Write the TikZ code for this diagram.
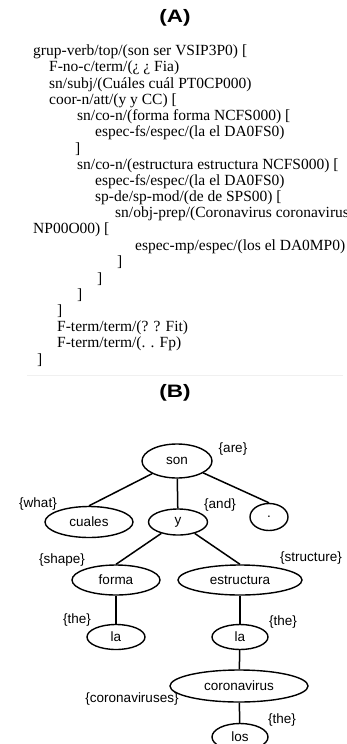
\documentclass[tikz,border=0pt]{standalone}
\usepackage{graphicx}
\usepackage{fontspec}
\setmainfont{Liberation Serif}
\setsansfont{Liberation Sans}
\usetikzlibrary{shapes.geometric}

\begin{document}
\begin{tikzpicture}[x=1pt, y=-1pt,
    txtline/.style={font=\fontsize{15.5}{16}\selectfont, anchor=west, inner sep=0pt},
    word/.style={ellipse, draw, line width=1.4pt, inner sep=0pt,
        font=\sffamily\fontsize{13.5}{14}\selectfont},
    gloss/.style={inner sep=0pt, font=\sffamily\fontsize{13.5}{14}\selectfont},
    edge/.style={line width=1.5pt},
    panel/.style={font=\sffamily\bfseries\fontsize{18}{20}\selectfont}]

    % Frame of the picture
    \def\w{346}
    \def\h{744}
    \useasboundingbox (0,0) rectangle (\w,\h);
    \clip (0,0) rectangle (\w,\h);
    \def\ys{52}    % first line, y
    \def\dy{16.2}  % line step

    % Panel (A): parse text
    \node[panel] (ta) at (175,18) {\scalebox{1.25}[1]{(A)}};
    \node[txtline] (l0)  at (33,  {\ys+0*\dy})  {grup-verb/top/(son ser VSIP3P0) [};
    \node[txtline] (l1)  at (49,  {\ys+1*\dy})  {F-no-c/term/(¿ ¿ Fia)};
    \node[txtline] (l2)  at (49,  {\ys+2*\dy})  {sn/subj/(Cuáles cuál PT0CP000)};
    \node[txtline] (l3)  at (49,  {\ys+3*\dy})  {coor-n/att/(y y CC) [};
    \node[txtline] (l4)  at (77,  {\ys+4*\dy})  {sn/co-n/(forma forma NCFS000) [};
    \node[txtline] (l5)  at (95,  {\ys+5*\dy})  {espec-fs/espec/(la el DA0FS0)};
    \node[txtline] (l6)  at (75,  {\ys+6*\dy})  {]};
    \node[txtline] (l7)  at (77,  {\ys+7*\dy})  {sn/co-n/(estructura estructura NCFS000) [};
    \node[txtline] (l8)  at (95,  {\ys+8*\dy})  {espec-fs/espec/(la el DA0FS0)};
    \node[txtline] (l9)  at (95,  {\ys+9*\dy})  {sp-de/sp-mod/(de de SPS00) [};
    \node[txtline] (l10) at (115, {\ys+10*\dy}) {sn/obj-prep/(Coronavirus coronavirus};
    \node[txtline] (l11) at (33,  {\ys+11*\dy}) {NP00O00) [};
    \node[txtline] (l12) at (135, {\ys+12*\dy}) {espec-mp/espec/(los el DA0MP0)};
    \node[txtline] (l13) at (117, {\ys+13*\dy}) {]};
    \node[txtline] (l14) at (97,  {\ys+14*\dy}) {]};
    \node[txtline] (l15) at (77,  {\ys+15*\dy}) {]};
    \node[txtline] (l16) at (57,  {\ys+16*\dy}) {]};
    \node[txtline] (l17) at (57,  {\ys+17*\dy}) {F-term/term/(? ? Fit)};
    \node[txtline] (l18) at (57,  {\ys+18*\dy}) {F-term/term/(. . Fp)};
    \node[txtline] (l19) at (37,  {\ys+19*\dy}) {]};
    % faint rule under panel (A)
    \draw[gray!12, thin] (27,375) -- (343,375);

    % Panel (B): tree
    \node[panel] (tb) at (175,393) {\scalebox{1.25}[1]{(B)}};
    \node[word, minimum width=70, minimum height=34] (n-son)        at (177,461) {son};
    \node[word, minimum width=88, minimum height=31] (n-cuales)     at (89,522)  {cuales};
    \node[word, minimum width=59, minimum height=26] (n-y)          at (178,522) {y};
    \node[word, minimum width=38, minimum height=27] (n-dot)        at (269,517) {.};
    \node[word, minimum width=88, minimum height=30] (n-forma)      at (116,580) {forma};
    \node[word, minimum width=124, minimum height=30] (n-estructura) at (240,580) {estructura};
    \node[word, minimum width=58, minimum height=25] (n-la1)        at (116,637) {la};
    \node[word, minimum width=56, minimum height=25] (n-la2)        at (240,637) {la};
    \node[word, minimum width=138, minimum height=32] (n-corona)    at (239,686) {coronavirus};
    \node[word, minimum width=56, minimum height=27] (n-los)        at (240,737) {los};

    % glosses
    \node[gloss] (g-son)        at (233,449) {\{are\}};
    \node[gloss] (g-cuales)     at (38,504)  {\{what\}};
    \node[gloss] (g-y)          at (220,505) {\{and\}};
    \node[gloss] (g-forma)      at (62,560)  {\{shape\}};
    \node[gloss] (g-estructura) at (311,558) {\{structure\}};
    \node[gloss] (g-la1)        at (77,620)  {\{the\}};
    \node[gloss] (g-la2)        at (283,622) {\{the\}};
    \node[gloss] (g-corona)     at (132,699) {\{coronaviruses\}};
    \node[gloss] (g-los)        at (282,720) {\{the\}};

    % branches
    \draw[edge] (n-son) -- (n-cuales.north);
    \draw[edge] (n-son) -- (n-y);
    \draw[edge] (n-son) -- (n-dot.north);
    \draw[edge] (n-y) -- (n-forma.north);
    \draw[edge] (n-y) -- (n-estructura.north);
    \draw[edge] (n-forma) -- (n-la1);
    \draw[edge] (n-estructura) -- (n-la2);
    \draw[edge] (n-la2) -- (n-corona);
    \draw[edge] (n-corona) -- (n-los);

\end{tikzpicture}
\end{document}
